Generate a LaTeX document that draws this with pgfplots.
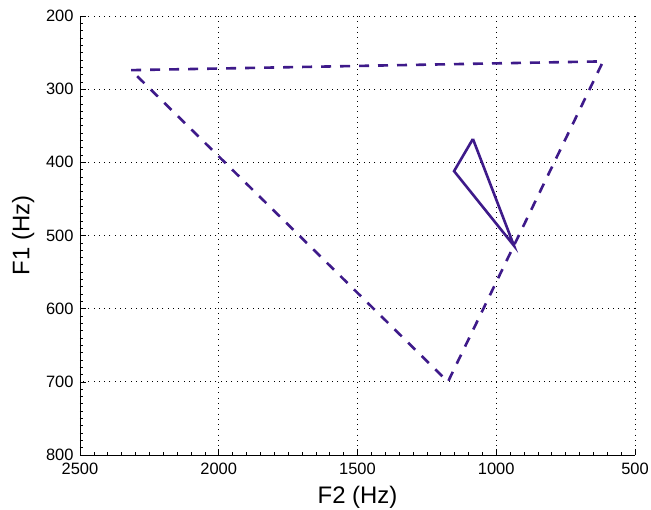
\documentclass[border=0pt]{standalone}
\usepackage{fontspec}
\setmainfont{Liberation Sans}
\usepackage{pgfplots}
\pgfplotsset{compat=1.18}
\definecolor{vpurple}{RGB}{62,26,138}
\begin{document}
\begin{tikzpicture}
\begin{axis}[
  scale only axis,
  width=555bp, height=439bp,
  x dir=reverse, y dir=reverse,
  xmin=500, xmax=2500, ymin=200, ymax=800,
  xtick={500,1000,1500,2000,2500},
  ytick={200,300,400,500,600,700,800},
  minor x tick num=9, minor y tick num=9,
  axis x line*=bottom, axis y line*=left,
  x axis line style={-}, y axis line style={-},
  tick align=inside,
  major tick length=6bp, minor tick length=3bp,
  tick style={black, line width=0.6bp},
  axis line style={black, line width=0.8bp},
  grid=major,
  major grid style={black, line width=0.8bp, dash pattern=on 0.8bp off 4.5bp},
  /pgf/number format/assume math mode=true,
  /pgf/number format/1000 sep={},
  ticklabel style={font=\fontsize{16.5}{18}\selectfont},
  xticklabel style={yshift=-4bp},
  yticklabel style={xshift=-3bp},
  xlabel={F2 (Hz)}, ylabel={F1 (Hz)},
  label style={font=\fontsize{24}{28}\selectfont},
  xlabel style={yshift=-5bp},
  ylabel style={yshift=5bp},
  clip=false,
]
\addplot[vpurple, line width=2.6bp, dash pattern=on 10bp off 9bp, line join=miter]
  coordinates {(2316,274) (615,262) (1174,700) (2316,274)};
\addplot[vpurple, line width=2.6bp, line join=miter]
  coordinates {(1084,368) (1152,412) (936,514) (1084,368)};
\end{axis}
\pgfresetboundingbox
\path ([shift={(-80bp,-55bp)}]current axis.south west) rectangle ([shift={(16bp,16bp)}]current axis.north east);
\end{tikzpicture}
\end{document}
